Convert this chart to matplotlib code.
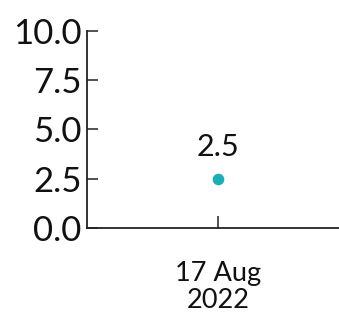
import matplotlib.pyplot as plt

# data
dates = ["17 Aug\n2022"]
values = [2.5]
yticks = [0.0, 2.5, 5.0, 7.5, 10.0]

plt.rcParams['font.family'] = ['Lato', 'DejaVu Sans']

fig = plt.figure(figsize=(3.39, 3.17), dpi=100)
ax = fig.add_axes([0.257, 0.281, 0.75, 0.621])

xs = list(range(len(dates)))
ax.scatter(xs, values, s=70, color='#1AAEB8', zorder=3, linewidths=0)
for x, v in zip(xs, values):
    ax.annotate(f"{v:.1f}", (x, v), xytext=(0, 13), textcoords='offset points',
                ha='center', va='bottom', fontsize=22, color='#111111')

ax.set_xlim(-1.0, 0.94)
ax.set_ylim(0, 10)
ax.set_xticks(xs)
ax.set_xticklabels(dates, fontsize=19.5, linespacing=1.1)
ax.set_yticks(yticks)
ax.set_yticklabels([f"{t:.1f}" for t in yticks], fontsize=25)

for s in ['top', 'right']:
    ax.spines[s].set_visible(False)
for s in ['left', 'bottom']:
    ax.spines[s].set_linewidth(1.3)
    ax.spines[s].set_color('#222222')

ax.tick_params(axis='y', direction='in', length=8, width=1.1, pad=4, colors='#222222', labelcolor='#111111')
ax.tick_params(axis='x', direction='in', length=9, width=1.1, pad=24, colors='#222222', labelcolor='#111111')

fig.savefig('out.png', dpi=100)
